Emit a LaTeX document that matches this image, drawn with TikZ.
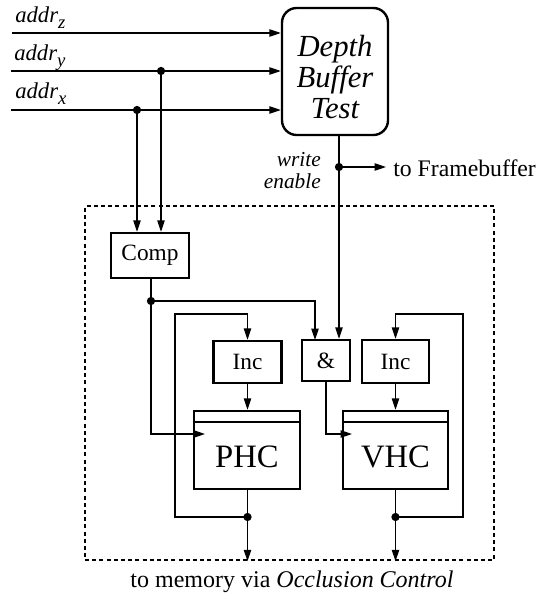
\documentclass[tikz,border=0pt]{standalone}
\usepackage{fontspec}
\setmainfont{Liberation Serif}
\usetikzlibrary{arrows.meta}
\tikzset{
  thinline/.style={line width=0.9pt},
  arr/.style={thinline,-{Triangle[length=8.5pt,width=5.5pt]}},
  blk/.style={draw,line width=1.8pt,inner sep=0pt,fill=white},
  dot/.style={circle,fill=black,inner sep=0pt,minimum size=6.2pt},
  lbl/.style={inner sep=0pt},
}
\newcommand{\addrlbl}[1]{\fontsize{17}{17}\selectfont\itshape addr\raisebox{-5pt}{\fontsize{14}{14}\selectfont\itshape #1}}
\begin{document}
\begin{tikzpicture}[x=0.75pt,y=-0.75pt]
\useasboundingbox (0,0) rectangle (540,596);
% dashed container
\node[draw,dashed,line width=1.8pt,dash pattern=on 3pt off 2.4pt,minimum width=306.75pt,minimum height=265.5pt,inner sep=0pt] (ctl) at (289.5,383) {};
% Depth buffer test
\node[draw,line width=1.8pt,rounded corners=11pt,minimum width=79.5pt,minimum height=95.25pt,inner sep=0pt] (dbt) at (335,71.5) {};
\node[lbl,align=center,font=\fontsize{23}{23.5}\selectfont\itshape] (dbtt) at (335,77) {Depth\\Buffer\\Test};
% blocks
\node[blk,minimum width=58.5pt,minimum height=33.75pt,font=\fontsize{17.5}{17.5}\selectfont] (comp) at (150,255.5) {Comp};
\node[blk,minimum width=51pt,minimum height=31.5pt,font=\fontsize{17.5}{17.5}\selectfont] (incp) at (247.5,362) {Inc};
\node[blk,minimum width=36pt,minimum height=30.75pt,font=\fontsize{17.5}{17.5}\selectfont] (and) at (326,360.5) {\&};
\node[blk,minimum width=50.25pt,minimum height=32.25pt,font=\fontsize{17.5}{17.5}\selectfont] (incv) at (395.5,361.5) {Inc};
\node[blk,minimum width=79.5pt,minimum height=58.5pt] (phc) at (247,450) {};
\node[blk,minimum width=78.75pt,minimum height=58.5pt] (vhc) at (395.5,450) {};
\draw[line width=1.8pt] ([yshift=-9pt]phc.north west) -- ([yshift=-9pt]phc.north east);
\draw[line width=1.8pt] ([yshift=-9pt]vhc.north west) -- ([yshift=-9pt]vhc.north east);
\node[lbl,font=\fontsize{24.5}{24.5}\selectfont] (phct) at (247,457) {PHC};
\node[lbl,font=\fontsize{24.5}{24.5}\selectfont] (vhct) at (395.5,457) {VHC};
% address inputs
\coordinate (z0) at (12,33);
\coordinate (y0) at (11,71);
\coordinate (x0) at (11,110);
\node[lbl,anchor=base west] (lz) at (15,22) {\addrlbl{z}};
\node[lbl,anchor=base west] (ly) at (14,60) {\addrlbl{y}};
\node[lbl,anchor=base west] (lx) at (15,98) {\addrlbl{x}};
\draw[arr] (z0) -- (z0 -| dbt.west);
\draw[arr] (y0) -- (y0 -| dbt.west);
\draw[arr] (x0) -- (x0 -| dbt.west);
\node[dot] (dy) at (161,71) {};
\node[dot] (dx) at (137,110) {};
\draw[arr] (dy.center) -- (dy.center |- comp.north);
\draw[arr] (dx.center) -- (dx.center |- comp.north);
% write enable
\node[dot] (we) at (339,167) {};
\draw[thinline] (we.center |- dbt.south) -- (we.center);
\draw[arr] (we.center) -- (we.center |- and.north);
\coordinate (fb) at (386,167);
\draw[arr] (we.center) -- (fb);
\node[lbl,anchor=west,font=\fontsize{17.8}{17.8}\selectfont] (fbt) at (393,168) {to Framebuffer};
\node[lbl,anchor=east,align=right,font=\fontsize{16}{16.5}\selectfont\itshape] (wet) at (321,171) {write\\enable};
% comparator output
\node[dot] (cd) at (151,301) {};
\draw[thinline] (comp.south -| cd.center) -- (cd.center);
\coordinate (andl) at (315,340);
\draw[arr] (cd.center) -| (andl);
\coordinate (pclk) at (205,434);
\draw[arr] (cd.center) |- (pclk);
\coordinate (vclk) at (352,434);
\draw[arr] (and.south) |- (vclk);
% inc -> counters
\draw[arr] (incp.south) -- (incp.south |- phc.north);
\draw[arr] (incv.south) -- (incv.south |- vhc.north);
% counter outputs and feedback
\node[dot] (pd) at (247.5,517) {};
\node[dot] (vd) at (395.5,517) {};
\draw[thinline] (pd.center |- phc.south) -- (pd.center);
\draw[thinline] (vd.center |- vhc.south) -- (vd.center);
\draw[arr] (pd.center) -- (pd.center |- ctl.south);
\draw[arr] (vd.center) -- (vd.center |- ctl.south);
\draw[arr] (pd.center) -- (175,517) -- (175,314) -- (247.5,314) -- (incp.north);
\draw[arr] (vd.center) -- (463,517) -- (463,314) -- (395.5,314) -- (incv.north);
% bottom label
\node[lbl,font=\fontsize{18}{18}\selectfont] (mem) at (292,582) {to memory via \textit{Occlusion Control}};
\end{tikzpicture}
\end{document}
